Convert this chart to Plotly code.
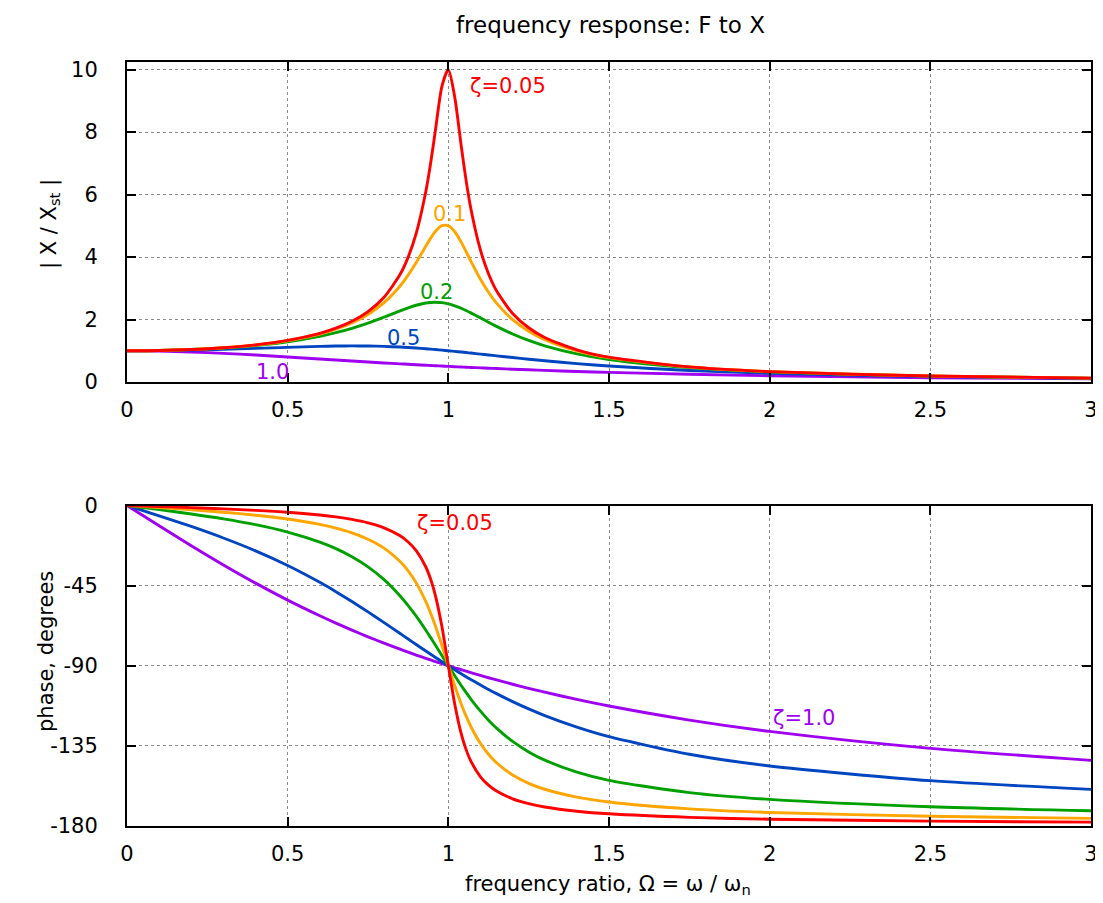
import plotly.graph_objects as go

# frequency ratio sample points (read along the x axis)
ratio = [0, 0.1, 0.2, 0.3, 0.4, 0.5, 0.6, 0.65, 0.7, 0.75, 0.8, 0.85, 0.875, 0.9, 0.93, 0.945, 0.96, 0.98, 1.0,
         1.02, 1.04, 1.055, 1.07, 1.1, 1.125, 1.15, 1.2, 1.25, 1.3, 1.4, 1.5, 1.75, 2.0, 2.5, 3.0]

# amplitude ratio |X / Xst| per damping ratio
amp_005 = [1.0, 1.0100, 1.0414, 1.0983, 1.1891, 1.3304, 1.5557, 1.7207, 1.9426, 2.2528, 2.7116, 3.4456, 3.9972,
           4.7565, 6.097, 7.006, 8.068, 9.461, 10.0,
           9.115, 7.565, 6.468, 5.552, 4.218, 3.4666, 2.9207, 2.1926, 1.7354, 1.4242, 1.0308, 0.7943, 0.4831,
           0.3326, 0.19026, 0.12491]
amp_01 = [1.0, 1.0099, 1.0408, 1.0965, 1.1851, 1.3216, 1.5357, 1.6893, 1.8908, 2.1622, 2.5384, 3.0729, 3.4188,
          3.8208, 4.350, 4.6046, 4.822, 5.001, 5.0,
          4.809, 4.4756, 4.1777, 3.8694, 3.288, 2.8726, 2.5245, 1.9952, 1.6245, 1.3562, 1.0, 0.7779, 0.4780,
          0.3304, 0.18962, 0.12465]
amp_02 = [1.0, 1.0093, 1.0381, 1.0895, 1.1695, 1.2883, 1.4630, 1.5789, 1.7188, 1.8851, 2.0761, 2.2786, 2.3740,
          2.4566, 2.5267, 2.5455, 2.5515, 2.5381, 2.5,
          2.4391, 2.3589, 2.2890, 2.2131, 2.0511, 1.9137, 1.7800, 1.5357, 1.3287, 1.1574, 0.8998, 0.7212, 0.4591,
          0.3221, 0.18711, 0.12362]
amp_05 = [1.0, 1.0050, 1.0198, 1.0437, 1.0748, 1.1094, 1.1399, 1.1501, 1.1546, 1.1517, 1.1399, 1.1184, 1.1039,
          1.0871, 1.0641, 1.0515, 1.0382, 1.0196, 1.0,
          0.9796, 0.9586, 0.9425, 0.9261, 0.8930, 0.8651, 0.8373, 0.7824, 0.7295, 0.6795, 0.5891, 0.5121, 0.3697,
          0.2774, 0.17197, 0.11704]
amp_10 = [1.0, 0.9901, 0.9615, 0.9174, 0.8621, 0.8, 0.7353, 0.7030, 0.6711, 0.64, 0.6098, 0.5806, 0.5664,
          0.5525, 0.5362, 0.5283, 0.5204, 0.5101, 0.5,
          0.4901, 0.4804, 0.47325, 0.4662, 0.4525, 0.44138, 0.4306, 0.4098, 0.3902, 0.3717, 0.3378, 0.3077, 0.2462,
          0.2, 0.1379, 0.1]

# phase in degrees per damping ratio
ph_005 = [0, -0.58, -1.19, -1.89, -2.73, -3.81, -5.36, -6.42, -7.82, -9.73, -12.53, -17.03, -20.47,
          -25.35, -34.54, -41.46, -50.76, -68.0, -90,
          -111.6, -128.12, -136.97, -143.56, -152.35, -157.05, -160.37, -164.74, -167.47, -169.33, -171.70, -173.16,
          -175.15, -176.19, -177.27, -177.85]
ph_01 = [0, -1.16, -2.39, -3.77, -5.44, -7.60, -10.62, -12.69, -15.35, -18.93, -23.96, -31.49, -36.75,
         -43.45, -54.01, -60.49, -67.79, -78.58, -90,
         -101.20, -111.42, -118.18, -124.10, -133.67, -139.73, -144.50, -151.39, -156.04, -159.36, -163.74, -166.50,
         -170.37, -172.41, -174.56, -175.71]
ph_02 = [0, -2.31, -4.76, -7.51, -10.78, -14.93, -20.56, -24.24, -28.77, -34.44, -41.63, -50.78, -56.19,
         -62.18, -70.04, -74.20, -78.46, -84.23, -90,
         -95.65, -101.10, -104.99, -108.70, -115.52, -120.55, -125.03, -132.51, -138.37, -143.00, -149.74, -154.36,
         -161.25, -165.07, -169.22, -171.47]
ph_05 = [0, -5.77, -11.77, -18.25, -25.46, -33.69, -43.15, -48.38, -53.93, -59.74, -65.77, -71.92, -75.01,
         -78.08, -81.73, -83.54, -85.33, -87.69, -90,
         -92.27, -94.49, -96.11, -97.71, -100.81, -103.28, -105.67, -110.14, -114.23, -117.96, -124.44, -129.81,
         -139.69, -146.31, -154.54, -159.44]
ph_10 = [0, -11.42, -22.62, -33.40, -43.60, -53.13, -61.93, -66.04, -69.98, -73.74, -77.32, -80.72, -82.38,
         -83.97, -85.84, -86.76, -87.66, -88.84, -90,
         -91.13, -92.24, -93.06, -93.87, -95.45, -96.73, -97.98, -100.39, -102.68, -104.86, -108.92, -112.62,
         -120.51, -126.87, -136.40, -143.13]

x_ticks = [0, 0.5, 1, 1.5, 2, 2.5, 3]
x_tick_text = ["0", "0.5", "1", "1.5", "2", "2.5", "3"]
amp_ticks = [0, 2, 4, 6, 8, 10]
amp_tick_text = ["0", "2", "4", "6", "8", "10"]
phase_ticks = [0, -45, -90, -135, -180]
phase_tick_text = ["0", "-45", "-90", "-135", "-180"]

colors = {"1.0": "#A000F0", "0.5": "#0045C0", "0.2": "#00A000", "0.1": "#FFA500", "0.05": "#FF0000"}
amp_series = [("1.0", amp_10), ("0.5", amp_05), ("0.2", amp_02), ("0.1", amp_01), ("0.05", amp_005)]
phase_series = [("1.0", ph_10), ("0.5", ph_05), ("0.2", ph_02), ("0.1", ph_01), ("0.05", ph_005)]
for _, v in amp_series + phase_series:
    assert len(v) == len(ratio), (len(v), len(ratio))

FONT = "DejaVu Sans, Liberation Sans, Arial, sans-serif"
FS = 21
# the page body adds an 8 px offset; the figure is sized and placed to compensate
OFF = 8
W, H = 1103 - OFF, 903 - OFF

def px_x(p):
    return (p - OFF) / W

def px_y(p):
    return 1 - (p - OFF) / H

fig = go.Figure()
for name, vals in amp_series:
    fig.add_trace(go.Scatter(x=ratio, y=vals, mode="lines", xaxis="x", yaxis="y",
                             line=dict(color=colors[name], width=2.9, shape="spline", smoothing=0.7),
                             showlegend=False))
for name, vals in phase_series:
    fig.add_trace(go.Scatter(x=ratio, y=vals, mode="lines", xaxis="x2", yaxis="y2",
                             line=dict(color=colors[name], width=2.9, shape="spline", smoothing=0.7),
                             showlegend=False))

axis_common = dict(showline=True, linecolor="black", linewidth=2, mirror="ticks",
                   ticks="inside", ticklen=9, tickwidth=1.5, tickcolor="black",
                   showgrid=True, gridcolor="#8a8a8a", griddash="dot", gridwidth=1,
                   zeroline=False, automargin=False,
                   tickfont=dict(family=FONT, size=FS, color="black"))

xdom = [px_x(127), px_x(1091)]
fig.update_layout(
    width=W, height=H,
    margin=dict(l=0, r=0, t=0, b=0, autoexpand=False),
    paper_bgcolor="white", plot_bgcolor="white",
    font=dict(family=FONT, size=FS, color="black"),
    xaxis=dict(domain=xdom, range=[0, 3], tickvals=x_ticks, ticktext=x_tick_text,
               anchor="y", ticklabelstandoff=8, **axis_common),
    yaxis=dict(domain=[px_y(382), px_y(62)], range=[0, 10.24], tickvals=amp_ticks,
               ticktext=amp_tick_text, anchor="x", ticklabelstandoff=23, **axis_common),
    xaxis2=dict(domain=xdom, range=[0, 3], tickvals=x_ticks, ticktext=x_tick_text,
                anchor="y2", ticklabelstandoff=8, **axis_common),
    yaxis2=dict(domain=[px_y(826), px_y(505.5)], range=[-180, 0], tickvals=phase_ticks,
                ticktext=phase_tick_text, anchor="x2", ticklabelstandoff=23, **axis_common),
)

def paper_text(text, x, y, angle=0, size=FS):
    fig.add_annotation(text=text, x=px_x(x), y=px_y(y), xref="paper", yref="paper",
                       showarrow=False, textangle=angle, xanchor="center", yanchor="middle",
                       font=dict(family=FONT, size=size, color="black"))

paper_text("frequency response: F to X", 610, 25, size=23)
paper_text("| X / X<sub>st</sub> |", 50, 224, -90)
paper_text("phase, degrees", 46, 652, -90)
paper_text("frequency ratio, Ω = ω / ω<sub>n</sub>", 608, 885)

def curve_label(text, x, y, color, axes):
    fig.add_annotation(text=text, x=x, y=y, xref=axes[0], yref=axes[1], showarrow=False,
                       xanchor="center", yanchor="middle",
                       font=dict(family=FONT, size=FS, color=color))

curve_label("ζ=0.05", 1.186, 9.47, colors["0.05"], ("x", "y"))
curve_label("0.1", 1.005, 5.38, colors["0.1"], ("x", "y"))
curve_label("0.2", 0.962, 2.88, colors["0.2"], ("x", "y"))
curve_label("0.5", 0.859, 1.41, colors["0.5"], ("x", "y"))
curve_label("1.0", 0.454, 0.32, colors["1.0"], ("x", "y"))
curve_label("ζ=0.05", 1.021, -9.8, colors["0.05"], ("x2", "y2"))
curve_label("ζ=1.0", 2.107, -119.2, colors["1.0"], ("x2", "y2"))

fig.write_html("out.html")
